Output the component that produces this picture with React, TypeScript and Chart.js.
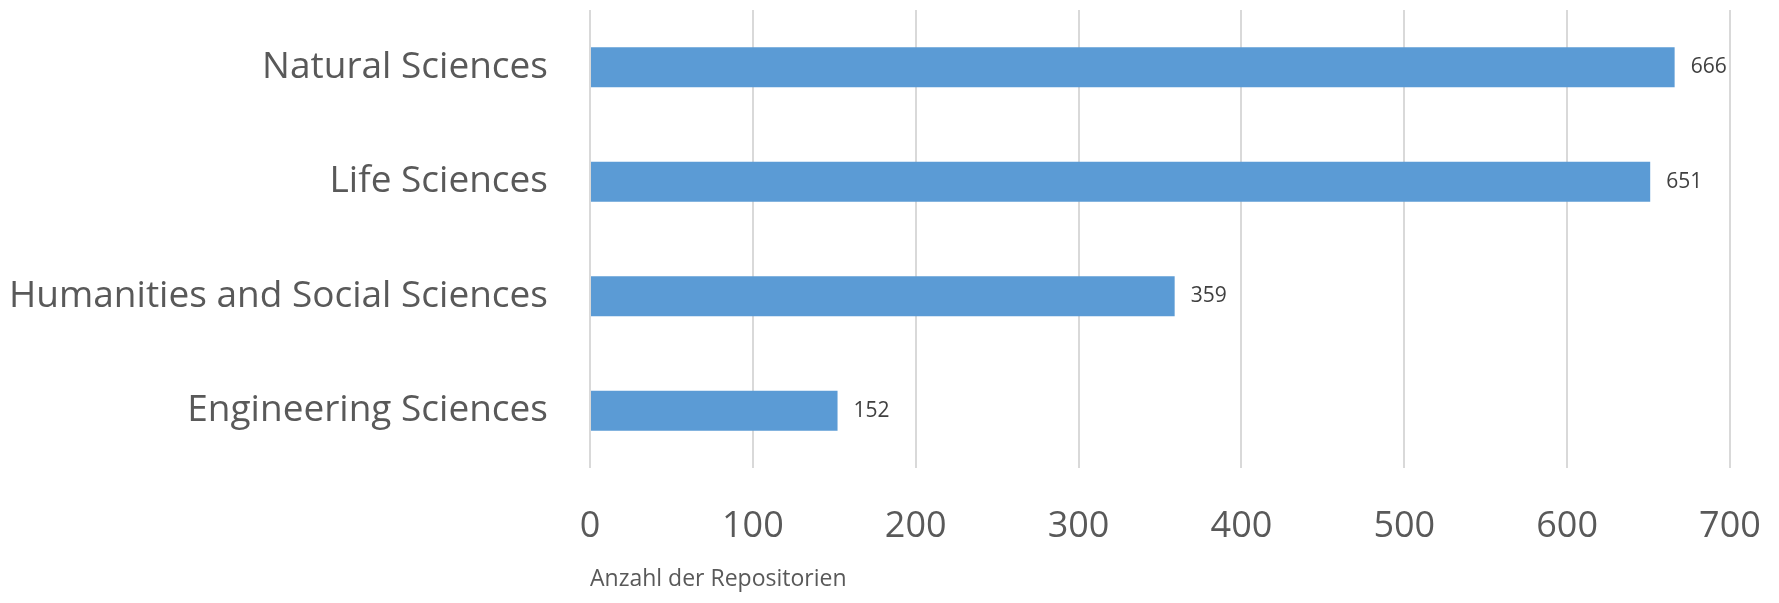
import React, { useEffect, useRef } from "react";
import { Chart, registerables } from "chart.js";

Chart.register(...registerables);

const categories = [
  "Natural Sciences",
  "Life Sciences",
  "Humanities and Social Sciences",
  "Engineering Sciences",
];
const repoCounts = [666, 651, 359, 152];
const xTicks = [0, 100, 200, 300, 400, 500, 600, 700];
const xTitle = "Anzahl der Repositorien";

const FONT = "'Open Sans', sans-serif";

const valueLabels = {
  id: "valueLabels",
  afterDatasetsDraw(chart: any) {
    const ctx = chart.ctx;
    const meta = chart.getDatasetMeta(0);
    ctx.save();
    ctx.font = `21px ${FONT}`;
    ctx.fillStyle = "#404040";
    ctx.textAlign = "left";
    ctx.textBaseline = "middle";
    meta.data.forEach((bar: any, i: number) => {
      ctx.fillText(String(repoCounts[i]), bar.x + 16, bar.y);
    });
    ctx.restore();
  },
};

export default function App() {
  const ref = useRef<HTMLCanvasElement | null>(null);

  useEffect(() => {
    if (!ref.current) return;
    const chart = new Chart(ref.current, {
      type: "bar",
      data: {
        labels: categories,
        datasets: [
          {
            data: repoCounts,
            backgroundColor: "#5B9BD5",
            borderWidth: 0,
            barPercentage: 0.35,
            categoryPercentage: 1,
          },
        ],
      },
      options: {
        indexAxis: "y",
        responsive: false,
        animation: false,
        maintainAspectRatio: false,
        layout: { padding: { top: 10, right: 49, left: 0, bottom: 0 } },
        plugins: {
          legend: { display: false },
          tooltip: { enabled: false },
        },
        scales: {
          x: {
            min: 0,
            max: 700,
            afterBuildTicks: (scale: any) => {
              scale.ticks = xTicks.map((v) => ({ value: v }));
            },
            afterFit: (scale: any) => {
              scale.height = 135;
              scale.paddingLeft = 0;
              scale.paddingRight = 0;
            },
            grid: {
              color: "#D9D9D9",
              lineWidth: 2,
              drawTicks: false,
            },
            border: { display: false },
            ticks: {
              color: "#595959",
              font: { family: FONT, size: 36 },
              padding: 37,
              maxRotation: 0,
            },
            title: {
              display: true,
              text: xTitle,
              align: "start",
              color: "#595959",
              font: { family: FONT, size: 23 },
              padding: { top: 0, bottom: 10 },
            },
          },
          y: {
            afterFit: (scale: any) => {
              scale.width = 590;
              scale.paddingTop = 0;
              scale.paddingBottom = 0;
            },
            grid: { display: false, drawTicks: false },
            border: { display: false },
            ticks: {
              color: "#595959",
              font: { family: FONT, size: 37 },
              padding: 42,
            },
          },
        },
      },
      plugins: [valueLabels],
    } as any);
    return () => chart.destroy();
  }, []);

  return (
    <div style={{ position: "fixed", left: 0, top: 0, width: 1779, height: 603, background: "#fff" }}>
      <canvas ref={ref} width={1779} height={603} style={{ display: "block" }} />
    </div>
  );
}
